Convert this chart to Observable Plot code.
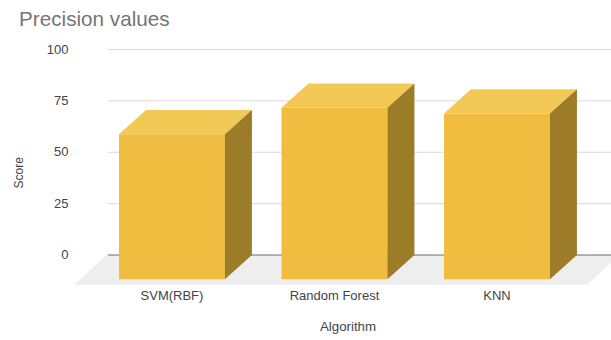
<!DOCTYPE html>
<html>
<head>
<meta charset="utf-8">
<script src="https://cdn.jsdelivr.net/npm/d3@7"></script>
<script src="https://cdn.jsdelivr.net/npm/@observablehq/plot@0.6"></script>
<style>
  html, body { margin: 0; padding: 0; background: #fff; }
  #title { height: 38px; box-sizing: border-box; padding: 8px 0 0 19px; font: 20.7px/22px "Liberation Sans", Arial, sans-serif; color: #757575; }
  svg { display: block; }
</style>
</head>
<body>
<div id="title">Precision values</div>
<script>
const categories = ["SVM(RBF)", "Random Forest", "KNN"];
const scores = [70.5, 83.5, 80.6];
const yTicks = [0, 25, 50, 75, 100];

// Extruded column proportions, in scale units
const barWidth = 0.652;
const depthX = 0.166;
const depthY = 11.8;

// Floor slab extents, in scale units
const floorFront = -14.5;
const floorLeft = -0.6;
const floorRight = 2.555;
const floorDepthX = 0.197;

const colors = { front: "#f0bd41", top: "#f3c955", side: "#9c7c28", floor: "#eeeeee", grid: "#d9d9d9", base: "#6b6b6b", text: "#444" };

const faces = categories.map((name, i) => {
  const v = scores[i], l = i - barWidth / 2, r = i + barWidth / 2, b = -depthY, t = v - depthY;
  return {
    name,
    front: [{x: l, y: b}, {x: r, y: b}, {x: r, y: t}, {x: l, y: t}],
    top: [{x: l, y: t}, {x: r, y: t}, {x: r + depthX, y: v}, {x: l + depthX, y: v}],
    side: [{x: r, y: b}, {x: r + depthX, y: 0}, {x: r + depthX, y: v}, {x: r, y: t}]
  };
});

const floor = [
  {x: floorLeft, y: floorFront},
  {x: floorRight, y: floorFront},
  {x: floorRight + floorDepthX, y: 0},
  {x: floorLeft + floorDepthX, y: 0}
];

const face = (key, fill) => Plot.line(
  faces.flatMap(f => f[key].map(p => ({...p, name: f.name}))),
  {x: "x", y: "y", z: "name", fill, stroke: "none"}
);

const chart = Plot.plot({
  width: 611,
  height: 302,
  marginTop: 11,
  marginBottom: 85,
  marginLeft: 108,
  marginRight: 0,
  x: {domain: [-0.3905, 2.7048], range: [108, 611]},
  y: {domain: [0, 100], range: [216.5, 11]},
  style: {fontFamily: "'Liberation Sans', Arial, sans-serif", fontSize: "12px", color: colors.text, background: "#fff"},
  marks: [
    Plot.line(floor, {x: "x", y: "y", fill: colors.floor, stroke: "none", clip: false}),
    Plot.ruleY(yTicks.filter(d => d > 0), {stroke: colors.grid, strokeWidth: 1}),
    Plot.ruleY([0], {stroke: colors.base, strokeWidth: 1}),
    face("front", colors.front),
    face("top", colors.top),
    face("side", colors.side),
    Plot.axisY({ticks: yTicks, tickSize: 0, tickPadding: 40, label: null, fontSize: 13}),
    Plot.axisX({ticks: [0, 1, 2], tickFormat: i => categories[i], tickSize: 0, tickPadding: 35, label: null, fontSize: 13}),
    Plot.text(["Score"], {text: d => d, frameAnchor: "left", dx: -89, dy: 36, rotate: -90, fontSize: 12, fill: colors.text}),
    Plot.text(["Algorithm"], {text: d => d, frameAnchor: "bottom", dy: 75, dx: -12, fontSize: 13.3, fill: colors.text})
  ]
});
document.body.appendChild(chart);
</script>
</body>
</html>
